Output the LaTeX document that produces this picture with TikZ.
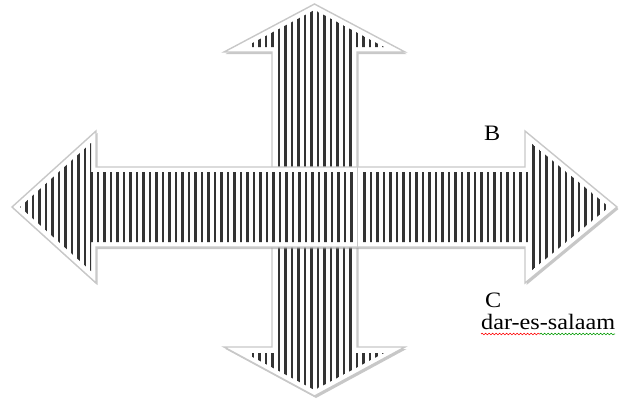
\documentclass[tikz,border=0pt]{standalone}
\usepackage{fontspec}
\newfontfamily\lblfont[FakeStretch=1.1]{Liberation Serif}
\usetikzlibrary{decorations.pathmorphing}
\definecolor{arstripe}{HTML}{333333}
\definecolor{aredge}{HTML}{C8C8C8}
\definecolor{arshade}{HTML}{9A9A9A}
\tikzset{
  arbody/.style   = {fill=white, draw=aredge, line width=1.4, line join=miter},
  arshadow/.style = {fill=arshade, draw=none, opacity=0.55, shift={(1.5,2)}},
  stripe/.style   = {draw=arstripe, line width=2.3},
  lbl/.style      = {font=\lblfont\fontsize{22}{26}\selectfont, inner sep=0pt,
                     anchor=base west},
  spell/.style    = {decorate, decoration={snake, amplitude=0.8, segment length=3.5},
                     line width=0.6},
}
\newcommand\vertarrow{(314.5,4) -- (405,52) -- (357,52) -- (357,347) -- (405,347)
  -- (314.5,396) -- (224,347) -- (272,347) -- (272,52) -- (224,52) -- cycle}
\newcommand\horzarrow{(12,207) -- (96,131) -- (96,167) -- (525,167) -- (525,131)
  -- (617,207) -- (525,283) -- (525,247) -- (96,247) -- (96,283) -- cycle}

\begin{document}
\begin{tikzpicture}[x=1pt,y=-1pt]
  \useasboundingbox (0,0) rectangle (621,400);

  % --- vertical arrow
  \fill[arshadow] \vertarrow;
  \filldraw[arbody] \vertarrow;
  \begin{scope}
    \clip (314.5,10) -- (384,47) -- (352,47) -- (352,353) -- (384,353)
      -- (314.5,390) -- (245,353) -- (277.5,353) -- (277.5,47) -- (245,47) -- cycle;
    \foreach \k in {0,...,20}{
      \draw[stripe] (253+6.5*\k,0) -- ++(0,400);
    }
  \end{scope}

  % --- horizontal arrow
  \fill[arshadow] \horzarrow;
  \filldraw[arbody] \horzarrow;
  \begin{scope}
    \clip (20,207) -- (91,143) -- (91,172) -- (531,172) -- (531,143)
      -- (609,207) -- (531,271) -- (531,242) -- (91,242) -- (91,271) -- cycle;
    \foreach \k in {0,...,90}{
      \draw[stripe] (20+6.5*\k,0) -- ++(0,400);
    }
  \end{scope}
  \draw[white, line width=5] (357,170) -- (357,244);
  \draw[aredge, line width=1] (357,167) -- (357,247);

  % --- labels
  \node[lbl] (labB) at (484,140) {B};
  \node[lbl] (labC) at (485,307) {C};
  \node[lbl] (labDar) at (481,329) {dar-es-salaam};
  \coordinate (sqA) at (481,334);
  \coordinate (sqB) at (540,334);
  \coordinate (sqC) at (615,334);
  \draw[spell, red] (sqA) -- (sqB);
  \draw[spell, green!60!black] (sqB) -- (sqC);
\end{tikzpicture}
\end{document}
